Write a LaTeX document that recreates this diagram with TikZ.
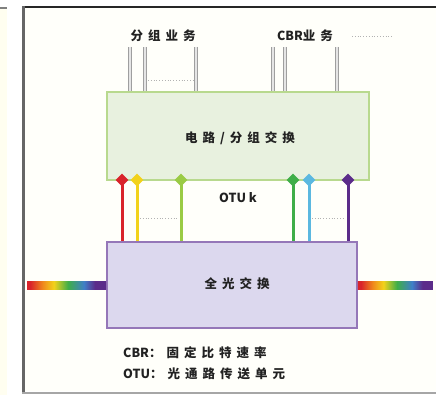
\documentclass[tikz,border=0pt]{standalone}
\usepackage{fontspec}
\newfontfamily\cjk[LetterSpace=40]{Noto Sans CJK SC}
\newfontfamily\lat{Noto Sans CJK SC}
\usetikzlibrary{shapes.geometric}
\definecolor{rbred}{HTML}{D9232B}
\definecolor{rborange}{HTML}{F08A1C}
\definecolor{rbyellow}{HTML}{F2D21B}
\definecolor{rbgreen}{HTML}{3FAE49}
\definecolor{rbblue}{HTML}{3F7FC8}
\definecolor{rbpurple}{HTML}{5B2C8A}
\definecolor{lgreen}{HTML}{9ACB45}
\definecolor{lcyan}{HTML}{5BB8E0}
\definecolor{boxgreen}{HTML}{E8F1DF}
\definecolor{boxgreenb}{HTML}{B8D98E}
\definecolor{boxpurple}{HTML}{DCD8EE}
\definecolor{boxpurpleb}{HTML}{9577B8}
\definecolor{txt}{HTML}{222222}
\pgfdeclarehorizontalshading{rainbowsh}{100bp}{color(0bp)=(rbred); color(27bp)=(rbred); color(35bp)=(rborange); color(42bp)=(rbyellow); color(51bp)=(rbgreen); color(61bp)=(rbblue); color(68bp)=(rbpurple); color(100bp)=(rbpurple)}
\tikzset{
  lbl/.style={font=\cjk\bfseries\fontsize{12.5}{14}\selectfont, text=txt, inner sep=1pt},
  greenbox/.style={draw=boxgreenb, fill=boxgreen, line width=1.5pt},
  purplebox/.style={draw=boxpurpleb, fill=boxpurple, line width=1.5pt},
  dia/.style={diamond, inner sep=0pt, minimum size=13pt},
  chan/.style={line width=3pt},
  feed/.style={draw=gray!75, double=gray!20, double distance=1.2pt, line width=1.1pt},
  dots/.style={gray!60, dotted, line width=0.8pt},
  rbar/.style={shading=rainbowsh, minimum height=8pt, inner sep=0pt}
}
\newcommand{\latw}[1]{{\lat\bfseries #1}}
\begin{document}
\begin{tikzpicture}[x=1pt,y=-1pt]
\useasboundingbox (0,0) rectangle (436,395);
% frame
\fill[yellow!6] (0,8) rectangle (7,395);
\draw[gray, line width=2pt] (0,8) -- (7,8);
\fill[white!98!yellow] (24,8) rectangle (436,391);
\draw[black!85, line width=2pt] (22,7) -- (436,7);
\draw[gray!80!black, line width=3pt] (23.5,6) -- (23.5,394);
\draw[gray!70, line width=2pt] (22,392.5) -- (436,392.5);
% boxes
\node[greenbox, minimum width=262pt, minimum height=88pt] (sw) at (238,136) {};
\node[lbl] at (240,138) {电路/分组交换};
\node[purplebox, minimum width=250pt, minimum height=86pt] (pw) at (232,285) {};
\node[lbl] at (237,284) {全光交换};
% rainbow bars
\node[rbar, minimum width=79pt, anchor=east] (lbar) at (pw.west) {};
\node[rbar, minimum width=75pt, anchor=west] (rbar) at (pw.east) {};
% channel lines with markers
\foreach \n/\x/\c in {1/122/rbred, 2/137/rbyellow, 3/181/lgreen, 4/293/rbgreen, 5/309/lcyan, 6/348/rbpurple}{
  \coordinate (m\n) at (\x,180);
  \draw[chan, \c] (m\n) -- (m\n |- pw.north);
  \node[dia, fill=\c] at (m\n) {};
}
\draw[dots] (140,218) -- (178,218);
\draw[dots] (312,218) -- (345,218);
\node[lbl] at (238,198) {\latw{OTU \textit{k}}};
% feed lines on top
\foreach \n/\x in {1/130,2/145,3/196,4/273,5/285,6/337}{
  \coordinate (t\n) at (\x,47);
  \draw[feed] (t\n) -- (t\n |- sw.north);
}
\draw[dots] (148,80) -- (193,80);
\node[lbl, fill=white!98!yellow] at (163,36) {分组业务};
\node[lbl, fill=white!98!yellow] at (305,36) {\latw{CBR}业务};
\draw[dots] (352,36) -- (392,36);
% legend
\node[lbl, anchor=west] at (122,353) {\latw{CBR}：固定比特速率};
\node[lbl, anchor=west] at (122,374) {\latw{OTU}：光通路传送单元};
\end{tikzpicture}
\end{document}
